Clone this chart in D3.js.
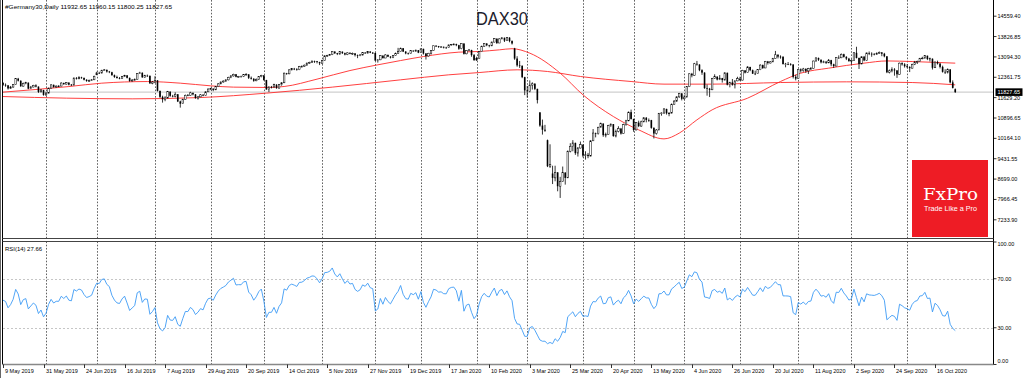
<!DOCTYPE html>
<html><head><meta charset="utf-8">
<script src="https://cdn.jsdelivr.net/npm/d3@7"></script>
<style>html,body{margin:0;padding:0;background:#fff;overflow:hidden}text{font-family:"Liberation Sans",Arial,sans-serif}</style>
</head><body><svg id="c" width="1024" height="378"></svg>
<script>
// ---------- DATA ----------
const holidays = ["2019-12-24","2019-12-25","2019-12-26","2019-12-31","2020-01-01","2020-04-10","2020-04-13","2020-05-01"];
const xTickLabels = ["9 May 2019","31 May 2019","24 Jun 2019","16 Jul 2019","7 Aug 2019","29 Aug 2019","20 Sep 2019","14 Oct 2019","5 Nov 2019","27 Nov 2019","19 Dec 2019","17 Jan 2020","10 Feb 2020","3 Mar 2020","25 Mar 2020","20 Apr 2020","13 May 2020","4 Jun 2020","26 Jun 2020","20 Jul 2020","11 Aug 2020","2 Sep 2020","24 Sep 2020","16 Oct 2020"];
const priceTicks = [14559.40,13826.85,13094.30,12361.75,11629.20,10896.65,10164.10,9431.55,8699.00,7966.45,7233.90];
const rsiTicks = [100,70,30,0];
const rsiLevels = [70,30];
const lastPrice = 11827.65;

const closes = [
12090,12070,11960,12010,12100,12310,12238,12041,12143,12168,11952,12011,12071,12027,11837,11902,11727,
11792,11971,12090,12009,12045,12045,12155,12116,12169,12096,12085,12331,12308,12356,12340,12274,12228,12245,12271,12399,
12521,12516,12616,12629,12568,12543,12437,12373,12332,12323,12387,12430,12342,12227,12260,12289,12490,12522,12362,12419,12417,12147,12189,
12253,11872,11658,11567,11620,11845,11694,11680,11750,11492,11412,11562,11715,11712,11802,11747,11612,11658,11730,11701,11838,11939,
11953,11910,12025,12126,12192,12226,12268,12360,12410,12469,12381,12390,12389,12457,12468,12342,12308,12235,12289,12381,12428,
12263,11925,12014,12013,12097,11970,12094,12164,12511,12486,12629,12670,12654,12633,12748,12754,12798,12872,12894,12941,12939,12910,12867,
12961,13136,13148,13179,13289,13228,13198,13283,13230,13180,13241,13207,13221,13159,13137,13163,13246,13232,13287,13245,13236,
12965,12989,13140,13055,13166,13105,13070,13141,13221,13282,13407,13287,13222,13212,13319,13300,13337,13249,
13385,13219,13127,13227,13320,13495,13483,13452,13456,13432,13429,13526,13549,13556,13516,13389,13577,13205,13324,13345,13158,12982,
13045,13282,13479,13575,13514,13494,13627,13750,13595,13744,13784,13681,13789,13665,13579,13035,12790,12774,12367,11890,
11858,12080,12128,11944,11542,10625,10475,10439,9161,9232,8742,8939,8442,8610,8929,8742,9700,9874,10001,9633,9816,9936,
9544,9571,9525,10075,10356,10333,10565,10697,10280,10301,10626,10676,10249,10416,10514,10337,10659,10796,11107,10862,
10467,10729,10606,10760,10904,10825,10820,10542,10337,10465,11058,11075,11223,11066,11074,11391,11504,11657,11781,11587,
11650,12022,12487,12431,12848,12820,12617,12530,11970,11949,11911,12316,12382,12281,12331,12262,12523,12093,12178,12089,12232,12311,
12260,12608,12528,12733,12617,12494,12489,12633,12800,12697,12931,12874,12920,13046,13171,13104,13103,12838,12838,12836,12822,12379,12313,
12647,12600,12660,12591,12674,12687,12947,13058,12994,12901,12920,12881,12977,12830,12765,13067,13062,13190,13096,13033,12945,
12974,13243,13057,12842,13100,12968,13237,13209,13203,13194,13218,13255,13208,13116,12542,12594,12642,12607,12469,12871,12826,12761,
12731,12689,12828,12906,12928,13042,13051,13138,13019,13029,12704,12909,12854,12736,12558,12543,12646,12178,11980,11827.65];

const opens = [
12160,12090,12070,11960,12010,12100,12310,12238,12041,12143,12168,11952,12011,12071,12027,11837,11902,
11727,11792,11971,12090,12009,12045,12045,12155,12116,12169,12096,12085,12331,12308,12356,12340,12274,12228,12245,12271,
12450,12521,12516,12616,12629,12568,12543,12437,12373,12332,12323,12387,12430,12342,12227,12260,12289,12490,12522,12362,12419,12417,12147,
12189,12253,11872,11658,11567,11620,11845,11694,11680,11750,11492,11412,11562,11715,11712,11802,11747,11612,11658,11730,11701,11838,
11939,11953,11910,12025,12126,12192,12226,12268,12360,12410,12469,12381,12390,12389,12457,12468,12342,12308,12235,12289,12381,
12428,12263,11925,12014,12013,12097,11970,12094,12164,12511,12486,12629,12670,12654,12633,12748,12754,12798,12872,12894,12941,12939,12910,
12867,12961,13136,13148,13179,13289,13228,13198,13283,13230,13180,13241,13207,13221,13159,13137,13163,13246,13232,13287,13245,
13236,12965,12989,13140,13055,13166,13105,13070,13141,13221,13282,13407,13287,13222,13212,13319,13300,13337,
13249,13385,13219,13127,13227,13320,13495,13483,13452,13456,13432,13429,13526,13549,13556,13516,13389,13577,13205,13324,13345,13158,
12982,13045,13282,13479,13575,13514,13494,13627,13750,13595,13744,13784,13681,13789,13665,13400,13035,12790,12774,12367,
11890,11858,12080,12128,11944,11100,10625,10475,10100,9161,8900,8742,8939,8442,8610,8929,8742,9700,9874,10001,9633,9816,
9936,9544,9571,9525,10075,10356,10333,10565,10697,10280,10301,10626,10676,10249,10416,10514,10337,10659,10796,11107,
10862,10467,10729,10606,10760,10904,10825,10820,10542,10337,10465,11058,11075,11223,11066,11074,11391,11504,11657,11781,
11587,11650,12022,12487,12431,12848,12820,12617,12530,11970,11949,11911,12316,12382,12281,12331,12262,12523,12093,12178,12089,12232,
12311,12260,12608,12528,12733,12617,12494,12489,12633,12800,12697,12931,12874,12920,13046,13171,13104,13103,12838,12838,12836,12822,12379,
12313,12647,12600,12660,12591,12674,12687,12947,13058,12994,12901,12920,12881,12977,12830,12765,13067,13062,13190,13096,13033,
12945,12974,13243,13057,12842,13100,12968,13237,13209,13203,13194,13218,13255,13208,13116,12542,12594,12642,12607,12469,12871,12826,
12761,12731,12689,12828,12906,12928,13042,13051,13138,13019,13029,12704,12909,12854,12736,12558,12543,12646,12178,11932.65];

const highs = [
12180,12140,12085,12050,12120,12330,12340,12250,12170,12200,12175,12050,12090,12110,12030,11940,11910,
11840,11990,12110,12100,12070,12080,12180,12170,12190,12180,12120,12360,12370,12400,12380,12350,12290,12280,12300,12420,
12560,12560,12630,12660,12640,12590,12560,12460,12420,12370,12410,12450,12440,12350,12300,12320,12510,12560,12540,12450,12460,12420,12230,
12400,12260,11880,11700,11680,11870,11850,11730,11820,11760,11520,11590,11740,11760,11840,11810,11760,11690,11760,11760,11860,11960,
11980,11960,12050,12150,12210,12250,12290,12380,12440,12490,12480,12410,12420,12480,12510,12470,12390,12330,12320,12400,12450,
12440,12270,12030,12050,12130,12110,12110,12190,12530,12520,12650,12690,12700,12690,12770,12790,12820,12890,12920,12970,12960,12950,12920,
12990,13150,13170,13200,13300,13290,13240,13300,13290,13250,13260,13260,13250,13230,13180,13200,13260,13270,13300,13300,13270,
13250,13010,13160,13150,13190,13180,13120,13160,13250,13420,13430,13410,13300,13250,13330,13330,13360,13340,
13400,13390,13230,13240,13340,13500,13520,13490,13480,13470,13460,13540,13560,13580,13570,13530,13590,13580,13340,13380,13350,13200,
13100,13300,13500,13590,13590,13530,13650,13770,13760,13760,13800,13790,13800,13800,13690,13420,13120,12950,12790,12380,
12050,12250,12180,12150,11950,11100,10840,10650,10120,9950,9180,9180,8950,8780,9150,8950,9730,9990,10100,10010,9850,10050,
9940,9700,9640,10100,10500,10370,10580,10730,10700,10370,10650,10700,10680,10480,10600,10540,10690,10830,11130,11200,
10870,10750,10800,10800,10930,10930,10880,10830,10560,10500,11080,11100,11250,11230,11100,11420,11540,11680,11800,11790,
11720,12040,12500,12520,12880,12950,12830,12650,12540,12100,11980,12340,12470,12400,12440,12340,12540,12530,12200,12300,12250,12380,
12380,12630,12620,12760,12740,12640,12600,12650,12830,12820,12950,12950,12940,13060,13310,13190,13150,13110,12880,12910,12870,12830,12450,
12660,12680,12700,12690,12700,12730,12960,13080,13070,13000,12960,12950,13020,12990,12850,13080,13150,13220,13210,13120,13060,
13010,13270,13460,13070,13120,13130,13250,13290,13260,13230,13260,13290,13270,13240,13120,12640,12720,12690,12620,12890,12900,12870,
12830,12760,12850,12950,12960,13060,13100,13160,13140,13070,13040,12930,12960,12870,12780,12650,12680,12650,12250,11960.15];

const lows = [
12050,12020,11920,11940,11985,12090,12210,12020,12030,12110,11930,11940,12000,12000,11800,11820,11700,
11690,11780,11960,11990,11990,12020,12040,12090,12100,12070,12050,12070,12280,12290,12310,12250,12200,12200,12230,12260,
12440,12480,12500,12600,12530,12510,12420,12340,12320,12290,12310,12370,12320,12200,12210,12240,12280,12480,12340,12350,12380,12120,12110,
12150,11850,11620,11450,11500,11600,11660,11640,11640,11470,11270,11400,11550,11680,11700,11710,11590,11560,11640,11680,11690,11830,
11900,11860,11900,12010,12110,12170,12200,12250,12330,12390,12360,12350,12360,12370,12430,12300,12280,12200,12220,12270,12360,
12240,11910,11830,11960,11990,11950,11960,12060,12150,12450,12470,12610,12620,12600,12620,12720,12740,12780,12850,12880,12880,12860,12800,
12850,12950,13100,13130,13160,13200,13160,13180,13200,13150,13160,13190,13170,13110,13050,13120,13150,13210,13220,13230,13200,
12950,12890,12980,13030,13050,13090,13040,13050,13130,13210,13280,13270,13190,13180,13200,13280,13290,13230,
13240,13180,13000,13110,13180,13310,13450,13420,13420,13400,13390,13420,13500,13510,13480,13350,13370,13180,13190,13300,13100,12950,
12950,13040,13270,13460,13480,13440,13480,13620,13560,13590,13730,13630,13670,13620,13540,12990,12740,12700,12330,11720,
11630,11820,11920,11900,11420,10580,10300,10400,9130,9100,8520,8620,8260,8020,8600,8500,8740,9660,9700,9570,9510,9800,
9480,9400,9450,9520,10100,10200,10300,10560,10220,10200,10290,10580,10220,10200,10380,10300,10330,10620,10780,10840,
10400,10450,10570,10580,10740,10740,10760,10510,10160,10300,10460,10980,11050,11020,10960,11060,11380,11480,11620,11530,
11560,11640,12010,12360,12420,12780,12580,12450,11950,11700,11650,11900,12300,12250,12260,12170,12250,12070,12000,12060,11960,12220,
12230,12250,12500,12520,12580,12480,12440,12480,12620,12660,12690,12820,12860,12900,13040,13040,13030,12820,12720,12800,12780,12320,12250,
12300,12530,12560,12520,12480,12620,12680,12930,12950,12860,12870,12840,12870,12760,12700,12760,13030,13050,13070,12980,12920,
12820,12960,13040,12660,12830,12940,12960,13160,13100,13150,13170,13200,13120,13080,12510,12500,12540,12420,12340,12460,12780,12710,
12690,12550,12680,12800,12840,12910,13010,13040,12980,12930,12640,12700,12820,12680,12530,12480,12500,12140,11960,11800.25];

// moving averages (bar index, value)
const fastMaBars = [0,26,39,57,70,82,91,104,111,124,137,148,157,166,180,188,196,201,208,220,229,241,251,261,267,274,280,294,307,315,326,340,349,359,376];
const fastMaVals = [11827,12028,12150,12208,12150,12054,12007,11995,12030,12295,12604,12810,12964,13108,13266,13290,13349,13390,13230,12511,11730,10950,10470,10145,10352,10830,11190,11610,12210,12510,12690,12870,12950,12928,12870];
const slowMaBars = [0,25,51,78,104,130,157,176,188,203,215,228,248,261,280,307,333,359,376];
const slowMaVals = [11669,11611,11586,11633,11791,12007,12270,12450,12532,12630,12570,12390,12210,12115,12115,12173,12198,12173,12090];

// RSI(14), one value per bar
const rsiValues = [
52.5,51.5,46.3,48.9,53.2,61.3,57.6,48.9,52.9,53.8,
45.4,47.8,50.2,48.4,41.6,44.5,38.9,41.9,49.1,53.2,
50.2,51.6,51.6,55.7,53.9,55.9,52.5,52.0,61.2,60.0,
61.6,60.8,57.1,54.7,55.4,56.6,62.1,66.4,66.1,69.4,
69.9,65.4,63.6,56.5,52.6,50.3,49.8,53.5,55.8,50.2,
44.1,46.2,48.1,58.5,59.8,50.7,53.5,53.3,41.0,43.2,
46.5,34.0,29.2,27.4,30.1,40.1,36.3,36.0,39.0,32.8,
31.2,37.6,43.3,43.2,46.6,44.8,40.8,42.7,45.6,44.6,
50.0,53.7,54.2,52.4,56.7,60.0,62.1,63.2,64.5,67.3,
68.8,70.4,64.9,65.2,65.1,67.5,67.8,59.1,56.9,52.5,
55.3,59.5,61.6,51.8,38.4,42.6,42.6,46.6,41.8,47.4,
50.3,61.7,60.7,64.5,65.6,64.8,63.7,67.0,67.2,68.5,
70.5,71.1,72.3,72.1,69.9,66.7,70.0,75.0,75.2,76.1,
78.8,73.9,71.5,74.1,69.9,66.2,68.4,65.7,66.2,61.3,
59.7,61.0,65.0,63.8,66.4,62.7,61.9,43.7,45.3,53.9,
49.2,54.7,51.4,49.5,53.2,56.9,59.7,64.5,57.3,53.8,
53.3,58.1,57.0,58.6,53.3,59.5,50.7,46.7,51.3,55.2,
61.4,60.8,59.1,59.3,57.8,57.7,61.9,62.9,63.2,60.2,
51.7,60.5,43.5,48.5,49.3,42.6,37.4,40.2,49.3,55.4,
58.1,55.8,55.1,59.1,62.4,56.2,60.3,61.3,57.1,60.1,
55.3,52.1,37.6,33.1,32.8,28.0,23.0,23.0,30.0,31.0,
28.0,24.0,20.0,19.0,19.0,17.0,18.0,17.0,21.0,19.0,
22.0,27.0,26.0,39.0,41.0,43.0,39.0,41.7,43.4,39.3,
39.7,39.2,47.7,51.4,51.1,54.2,55.9,49.6,49.9,54.5,
55.2,48.5,51.0,52.5,49.6,54.5,56.4,60.5,56.0,49.6,
53.4,51.5,53.7,55.8,54.4,54.3,49.1,45.6,48.1,57.7,
57.9,60.0,56.8,56.9,61.7,63.3,65.4,67.1,62.1,63.1,
68.2,73.2,71.7,75.6,74.9,69.5,67.3,55.1,54.7,53.9,
60.3,61.3,59.0,59.8,58.1,62.4,52.7,54.2,52.3,55.0,
56.5,55.2,61.5,59.5,62.9,59.8,56.6,56.5,59.4,62.6,
59.5,63.8,62.1,63.0,65.3,67.6,65.2,65.1,56.0,56.0,
55.9,55.4,42.2,40.7,50.6,49.3,51.0,48.9,51.4,51.8,
58.9,61.5,59.2,55.8,56.3,54.9,57.8,52.2,49.9,59.0,
58.8,62.2,58.4,55.9,52.6,53.6,61.5,54.6,47.9,55.0,
51.2,57.7,56.8,56.6,56.4,57.1,58.1,56.2,52.5,36.5,
38.4,40.1,39.3,36.0,49.2,48.0,46.3,45.5,44.3,49.1,
51.5,52.2,55.9,56.2,58.9,53.9,54.2,42.9,50.0,48.2,
44.7,39.9,39.5,43.5,32.8,29.5,27.66];

// ---------- BUILD ----------
const dates = [];
{
  const d = new Date(Date.UTC(2019,4,9));
  while (dates.length < closes.length) {
    const wd = d.getUTCDay(), s = d.toISOString().slice(0,10);
    if (wd > 0 && wd < 6 && !holidays.includes(s)) dates.push(new Date(d));
    d.setUTCDate(d.getUTCDate()+1);
  }
}
const fmt = d3.utcFormat("%-d %b %Y");
const bars = closes.map((c,i)=>({i, o:opens[i], h:highs[i], l:lows[i], c, r:rsiValues[i], date:dates[i]}));

const W = 1024, H = 378;
const plotL = 3, plotR = 993.5;
const mainTop = 0, mainBot = 238.5, rsiTop = 241.5, rsiBot = 364.5;

const x = d3.scaleLinear().domain([0, 368]).range([3, 935]);
const y = d3.scaleLinear().domain([7233.90, 14559.40]).range([219.8, 16.2]);
const yr = d3.scaleLinear().domain([0, 100]).range([rsiBot, rsiTop + 0.5]);

const svg = d3.select("#c");
svg.append("rect").attr("width",W).attr("height",H).attr("fill","#fff");

const defs = svg.append("defs");
defs.append("clipPath").attr("id","cm").append("rect").attr("x",plotL).attr("y",mainTop).attr("width",plotR-plotL).attr("height",mainBot-mainTop);
defs.append("clipPath").attr("id","cr").append("rect").attr("x",plotL).attr("y",rsiTop).attr("width",plotR-plotL).attr("height",rsiBot-rsiTop);

// month grid lines
const monthStarts = bars.filter((b,i)=> i>0 && b.date.getUTCMonth() !== bars[i-1].date.getUTCMonth());
const grid = svg.append("g");
monthStarts.forEach(b=>{
  const gx = Math.round(x(b.i)) + 0.5;
  [[mainTop,mainBot],[rsiTop,rsiBot]].forEach(([a,z])=>{
    grid.append("line").attr("x1",gx).attr("x2",gx).attr("y1",a).attr("y2",z)
      .attr("stroke","#3a3a3a").attr("stroke-width",0.8).attr("stroke-dasharray","1.6,1.6");
  });
});

// current price line
svg.append("line").attr("x1",plotL).attr("x2",plotR).attr("y1",y(lastPrice)).attr("y2",y(lastPrice))
  .attr("stroke","#cfcfcf").attr("stroke-width",1.4);

// moving averages
const main = svg.append("g").attr("clip-path","url(#cm)");
const maLine = d3.line().x(d=>x(d[0])).y(d=>y(d[1])).curve(d3.curveMonotoneX);
main.append("path").attr("d", maLine(fastMaBars.map((b,i)=>[b,fastMaVals[i]])))
  .attr("fill","none").attr("stroke","#ff2a2a").attr("stroke-width",0.9);
main.append("path").attr("d", maLine(slowMaBars.map((b,i)=>[b,slowMaVals[i]])))
  .attr("fill","none").attr("stroke","#ff2a2a").attr("stroke-width",0.9);

// candles
const cg = main.append("g");
cg.selectAll("line.w").data(bars).join("line").attr("class","w")
  .attr("x1",d=>x(d.i)).attr("x2",d=>x(d.i)).attr("y1",d=>y(d.h)).attr("y2",d=>y(d.l))
  .attr("stroke","#000").attr("stroke-width",0.8);
cg.selectAll("rect.b").data(bars).join("rect").attr("class","b")
  .attr("x",d=>x(d.i)-0.8).attr("width",1.6)
  .attr("y",d=>y(Math.max(d.o,d.c)))
  .attr("height",d=>Math.max(0.7, Math.abs(y(d.o)-y(d.c))))
  .attr("fill",d=>d.c>=d.o?"#fff":"#000")
  .attr("stroke","#000").attr("stroke-width",d=>d.c>=d.o?0.5:0);

// RSI
const rg = svg.append("g").attr("clip-path","url(#cr)");
rsiLevels.forEach(v=>{
  rg.append("line").attr("x1",plotL).attr("x2",plotR).attr("y1",Math.round(yr(v))+0.5).attr("y2",Math.round(yr(v))+0.5)
    .attr("stroke","#b8b8b8").attr("stroke-width",0.8).attr("stroke-dasharray","2,2");
});
const rLine = d3.line().x(d=>x(d.i)).y(d=>yr(d.r));
rg.append("path").attr("d", rLine(bars))
  .attr("fill","none").attr("stroke","#3d9bf5").attr("stroke-width",0.9);

// frame
const fr = svg.append("g").attr("stroke","#000").attr("fill","none");
fr.append("line").attr("x1",0.5).attr("x2",0.5).attr("y1",0).attr("y2",H).attr("stroke","#666");
fr.append("line").attr("x1",2.5).attr("x2",2.5).attr("y1",0).attr("y2",rsiBot);
fr.append("line").attr("x1",plotR).attr("x2",plotR).attr("y1",0).attr("y2",rsiBot);
fr.append("line").attr("x1",2.5).attr("x2",plotR).attr("y1",mainBot).attr("y2",mainBot).attr("stroke","#444");
fr.append("line").attr("x1",2.5).attr("x2",plotR).attr("y1",rsiTop).attr("y2",rsiTop).attr("stroke","#444");
fr.append("line").attr("x1",2.5).attr("x2",plotR).attr("y1",rsiBot).attr("y2",rsiBot).attr("stroke","#888").attr("stroke-width",1.6);

// price axis
const pa = svg.append("g");
priceTicks.forEach(p=>{
  const ty = y(p);
  pa.append("line").attr("x1",plotR).attr("x2",plotR+3).attr("y1",ty).attr("y2",ty).attr("stroke","#000").attr("stroke-width",0.8);
  pa.append("text").attr("x",plotR+4).attr("y",ty+2).attr("font-size",5.5).attr("fill","#000").text(p.toFixed(2));
});
const ly = y(lastPrice);
pa.append("rect").attr("x",plotR+2).attr("y",ly-3.8).attr("width",27).attr("height",7.6).attr("fill","#000");
pa.append("text").attr("x",plotR+4).attr("y",ly+2).attr("font-size",5.5).attr("fill","#fff").text(lastPrice.toFixed(2));

// rsi axis
rsiTicks.forEach(v=>{
  const ty = yr(v);
  pa.append("line").attr("x1",plotR).attr("x2",plotR+3).attr("y1",ty).attr("y2",ty).attr("stroke","#000").attr("stroke-width",0.8);
  const off = v===100 ? 3.5 : (v===0 ? -2 : 2);
  pa.append("text").attr("x",plotR+4).attr("y",ty+off).attr("font-size",5.5).attr("fill","#000").text(v.toFixed(2));
});

// time axis
const ta = svg.append("g");
xTickLabels.forEach(lbl=>{
  const b = bars.find(d=>fmt(d.date)===lbl);
  if(!b) return;
  const tx = Math.round(x(b.i))+0.5;
  ta.append("line").attr("x1",tx).attr("x2",tx).attr("y1",rsiBot).attr("y2",rsiBot+3.5).attr("stroke","#000").attr("stroke-width",0.8);
  ta.append("text").attr("x",tx+1.5).attr("y",372.5).attr("font-size",5.5).attr("fill","#000").text(lbl);
});

// texts
svg.append("text").attr("x",5).attr("y",9).attr("font-size",6).attr("fill","#000")
  .attr("textLength",167).attr("lengthAdjust","spacingAndGlyphs")
  .text("#Germany30,Daily  11932.65 11960.15 11800.25 11827.65");
svg.append("text").attr("x",5).attr("y",251).attr("font-size",5.8).attr("fill","#000")
  .attr("textLength",37).attr("lengthAdjust","spacingAndGlyphs").text("RSI(14) 27.66");
svg.append("text").attr("x",476).attr("y",25).attr("font-size",17.5).attr("fill","#1c1c2c")
  .attr("textLength",52).attr("lengthAdjust","spacingAndGlyphs").text("DAX30");

// logo
const lg = svg.append("g");
lg.append("rect").attr("x",912).attr("y",160).attr("width",76).attr("height",77).attr("fill","#ee1c25");
lg.append("text").attr("x",923).attr("y",200).attr("font-size",16.5).attr("fill","#fff")
  .style("font-family","'DejaVu Serif','Liberation Serif',serif")
  .attr("textLength",55).attr("lengthAdjust","spacingAndGlyphs").text("FxPro");
lg.append("text").attr("x",924).attr("y",210.5).attr("font-size",6.5).attr("fill","#fff")
  .attr("textLength",53).attr("lengthAdjust","spacingAndGlyphs").text("Trade Like a Pro");
</script></body></html>
